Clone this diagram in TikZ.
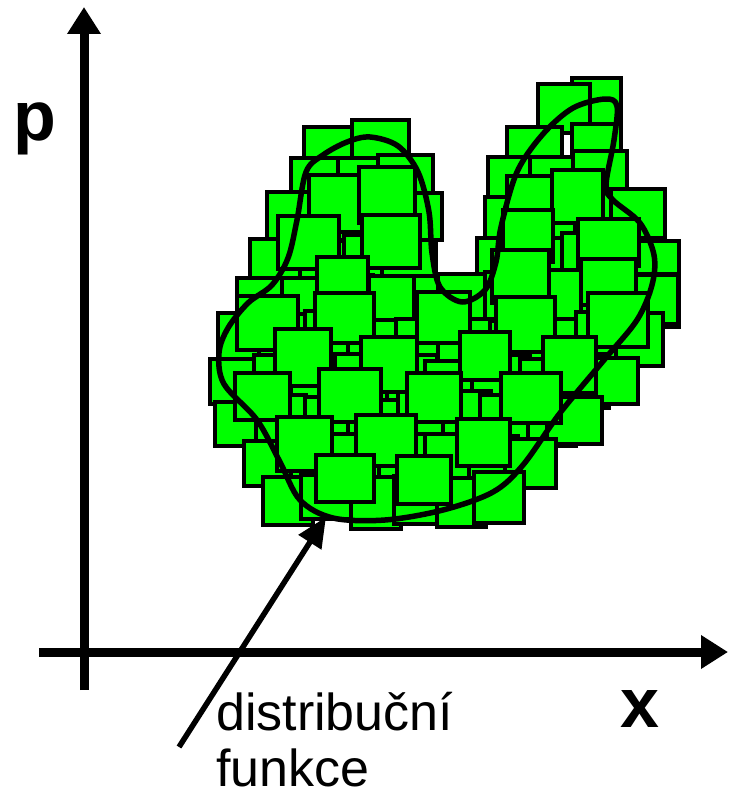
\documentclass[tikz,border=0pt]{standalone}
\usepackage{fontspec}
\setmainfont{Liberation Sans}
\usetikzlibrary{arrows.meta}

\definecolor{cellgreen}{RGB}{0,255,0}

\begin{document}
\begin{tikzpicture}[
 x=1pt, y=-1pt,
 axis/.style={line width=9pt, -{Triangle[length=27pt,width=32pt]}},
 cell/.style={fill=cellgreen, draw=black, line width=4pt},
 contour/.style={line width=5.5pt, line join=round},
 pointer/.style={line width=5.5pt, -{Triangle[length=30pt,width=26pt]}},
 axlbl/.style={inner sep=0pt, font=\fontsize{70}{70}\selectfont\bfseries},
 txt/.style={inner sep=0pt, align=left, font=\fontsize{52}{56}\selectfont},
]
\useasboundingbox (0,0) rectangle (728,800);

% axes
\coordinate (ybot) at (84,690);
\coordinate (ytop) at (84,7);
\coordinate (xleft) at (39,652);
\coordinate (xright) at (728,652);
\draw[axis] (ybot) -- (ytop);
\draw[axis] (xleft) -- (xright);
\node[axlbl, anchor=base west] (plbl) at (13,140) {p};
\node[axlbl] (xlbl) at (640,709) {x};

% cells of the phase space
\pgfmathsetseed{12}
\foreach \cy/\row in {100/{598}, 112/{560},
  150/{330,380,535,598},
  178/{318,362,408,518,560,600},
  220/{295,340,385,418,512,555,598,638},
  262/{280,322,365,412,505,548,590,630,652},
  300/{266,305,350,395,438,468,515,560,605,648,654},
  340/{242,285,330,375,420,465,510,555,600,638},
  380/{232,275,320,365,410,455,500,545,585,612},
  420/{242,285,330,375,420,465,510,555,578},
  460/{272,315,360,405,450,495,532},
  500/{286,330,375,420,465,502}}{
  \foreach \cx in \row {
    \pgfmathsetmacro\w{52+5*rand}
    \pgfmathsetmacro\h{49+5*rand}
    \pgfmathsetmacro\px{\cx+4*rand}
    \pgfmathsetmacro\py{\cy+4*rand}
    \draw[cell] (\px-\w/2,\py-\h/2) rectangle ++(\w,\h);
  }
}
% second layer, shifted between the rows
\foreach \cy/\row in {200/{340,385,535,578},
  240/{305,390,530,612},
  280/{345,525,610},
  320/{262,350,440,530,620},
  360/{300,390,480,570},
  400/{262,350,440,530},
  440/{300,390,480},
  480/{340,430}}{
  \foreach \cx in \row {
    \pgfmathsetmacro\w{56+6*rand}
    \pgfmathsetmacro\h{52+6*rand}
    \pgfmathsetmacro\px{\cx+6*rand}
    \pgfmathsetmacro\py{\cy+5*rand}
    \draw[cell] (\px-\w/2,\py-\h/2) rectangle ++(\w,\h);
  }
}

% distribution function contour
\draw[contour] plot[smooth cycle, tension=0.55] coordinates {
 (306,172) (323,155) (347,142) (370,137) (398,146) (418,172) (429,212)
 (432,253) (440,287) (462,302) (485,290) (496,262) (501,227) (517,172)
 (543,134) (573,108) (605,99) (617,106) (614,140) (606,185) (613,200)
 (640,223) (654,255) (652,285) (637,320) (604,360) (560,413) (523,465)
 (493,492) (443,510) (385,520) (333,518) (300,500) (280,462) (257,420)
 (224,384) (219,353) (228,328) (248,303) (272,285) (288,258) (297,220)};

% label
\coordinate (tail) at (179,747);
\coordinate (tip) at (326,517);
\draw[pointer] (tail) -- (tip);
\node[txt, anchor=base west] (dist) at (216,786) {distribuční\\funkce};
\end{tikzpicture}
\end{document}
